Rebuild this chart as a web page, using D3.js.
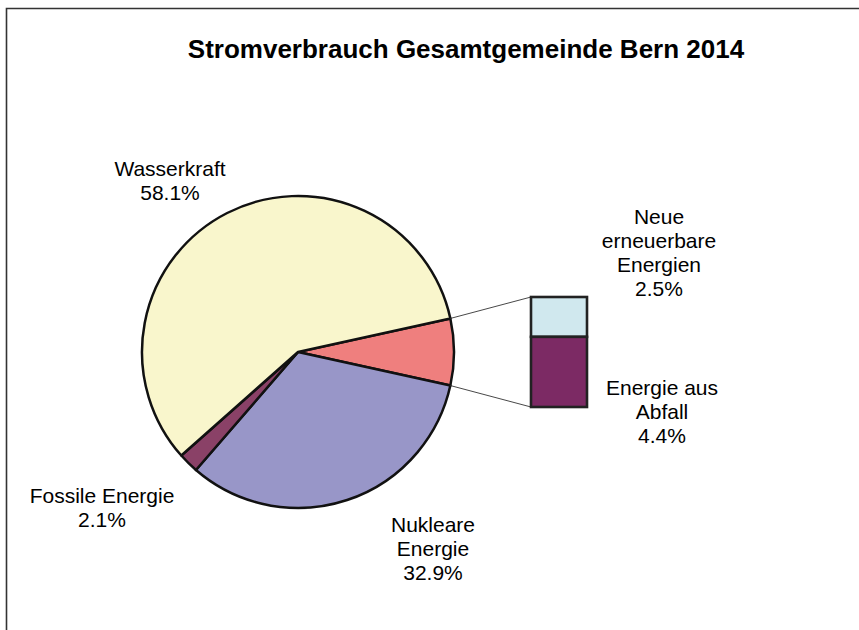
<!DOCTYPE html>
<html>
<head>
<meta charset="utf-8">
<script src="https://cdn.jsdelivr.net/npm/d3@7"></script>
<style>
  html, body { margin: 0; padding: 0; background: #fff; }
  svg { display: block; }
  text { font-family: "Liberation Sans", Arial, sans-serif; fill: #000; }
</style>
</head>
<body>
<script>
// ---- data ----
const title = "Stromverbrauch Gesamtgemeinde Bern 2014";
const pieCategories = ["Andere", "Nukleare Energie", "Fossile Energie", "Wasserkraft"];
const barCategories = ["Neue erneuerbare Energien", "Energie aus Abfall"];
const barValues = [2.5, 4.4];
const pieValues = [barValues[0] + barValues[1], 32.9, 2.1, 58.1];
const pieColors = ["#EF7F7E", "#9896C8", "#8A4167", "#F9F6CC"];
const barColors = ["#D0E8EE", "#7C2A64"];

// ---- layout ----
const W = 859, H = 630;
const cx = 298, cy = 352, R = 156;
const bar = { x: 531, y: 297, w: 56, h: 110 };

const svg = d3.select("body").append("svg").attr("width", W).attr("height", H);

// frame
svg.append("path")
  .attr("d", `M6.5,${H + 2} L6.5,8.5 L${W + 2},8.5`)
  .attr("fill", "none").attr("stroke", "#333").attr("stroke-width", 1.6);

// title
svg.append("text")
  .attr("x", 466).attr("y", 58)
  .attr("text-anchor", "middle")
  .style("font-size", "26px").style("font-weight", "bold")
  .text(title);

// pie
const otherAngle = pieValues[0] / d3.sum(pieValues) * 2 * Math.PI;
const pie = d3.pie().sort(null).value(d => d)
  .startAngle(Math.PI / 2 - otherAngle / 2)
  .endAngle(Math.PI / 2 - otherAngle / 2 + 2 * Math.PI);
const arcs = pie(pieValues);
const arc = d3.arc().innerRadius(0).outerRadius(R);

const g = svg.append("g").attr("transform", `translate(${cx},${cy})`);
g.selectAll("path.slice").data(arcs).enter().append("path")
  .attr("class", "slice")
  .attr("d", arc)
  .attr("fill", (d, i) => pieColors[i])
  .attr("stroke", "#111").attr("stroke-width", 2.5)
  .attr("stroke-linejoin", "round");

// bar (stacked)
const yScale = d3.scaleLinear().domain([0, d3.sum(barValues)]).range([0, bar.h]);
let acc = 0;
const stack = barValues.map(v => { const s = { y0: acc, y1: acc + v }; acc += v; return s; });

// connector lines
const a0 = arcs[0].startAngle, a1 = arcs[0].endAngle;
const p0 = [cx + R * Math.sin(a0), cy - R * Math.cos(a0)];
const p1 = [cx + R * Math.sin(a1), cy - R * Math.cos(a1)];
svg.append("line").attr("x1", p0[0]).attr("y1", p0[1]).attr("x2", bar.x).attr("y2", bar.y + yScale(0))
  .attr("stroke", "#333").attr("stroke-width", 0.9);
svg.append("line").attr("x1", p1[0]).attr("y1", p1[1]).attr("x2", bar.x).attr("y2", bar.y + yScale(d3.sum(barValues)))
  .attr("stroke", "#333").attr("stroke-width", 0.9);

svg.selectAll("rect.seg").data(stack).enter().append("rect")
  .attr("class", "seg")
  .attr("x", bar.x).attr("width", bar.w)
  .attr("y", d => bar.y + yScale(d.y0))
  .attr("height", d => yScale(d.y1) - yScale(d.y0))
  .attr("fill", (d, i) => barColors[i])
  .attr("stroke", "#222").attr("stroke-width", 2.6);

// labels
const fmt = v => v.toFixed(1) + "%";
const labelFont = 21, lh = 24;
function label(x, yFirstBaseline, lines) {
  const t = svg.append("text").attr("text-anchor", "middle").style("font-size", labelFont + "px");
  lines.forEach((s, i) => t.append("tspan").attr("x", x).attr("y", yFirstBaseline + i * lh).text(s));
}
label(170, 176, ["Wasserkraft", fmt(pieValues[3])]);
label(102, 503, ["Fossile Energie", fmt(pieValues[2])]);
label(433, 532, ["Nukleare", "Energie", fmt(pieValues[1])]);
label(659, 224, ["Neue", "erneuerbare", "Energien", fmt(barValues[0])]);
label(662, 395, ["Energie aus", "Abfall", fmt(barValues[1])]);
</script>
</body>
</html>
